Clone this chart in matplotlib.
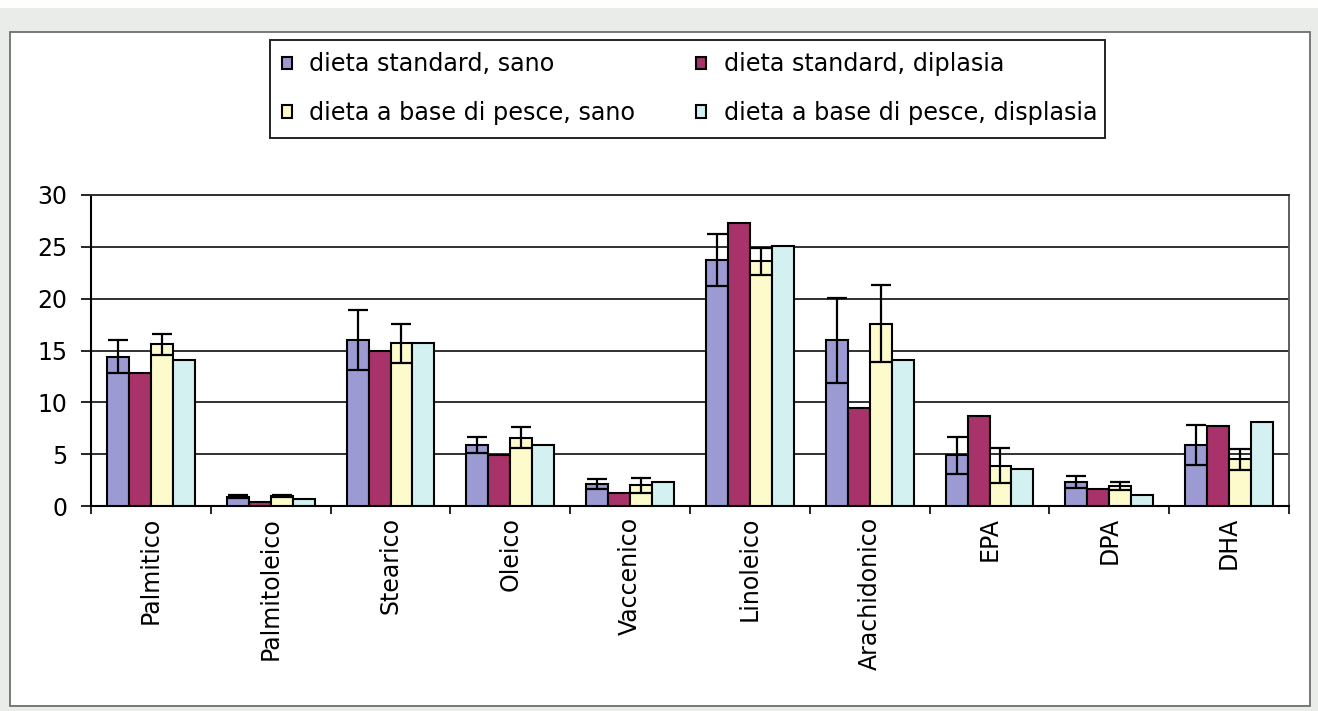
import matplotlib
matplotlib.use("Agg")
import matplotlib.pyplot as plt
import numpy as np
from matplotlib.patches import Rectangle

categories = ['Palmitico', 'Palmitoleico', 'Stearico', 'Oleico', 'Vaccenico',
              'Linoleico', 'Arachidonico', 'EPA', 'DPA', 'DHA']
series_names = ['dieta standard, sano', 'dieta standard, diplasia',
                'dieta a base di pesce, sano', 'dieta a base di pesce, displasia']
std_sano = [14.4, 0.9, 16.0, 5.9, 2.1, 23.7, 16.0, 4.9, 2.3, 5.9]
std_sano_err = [1.6, 0.15, 2.9, 0.8, 0.5, 2.5, 4.1, 1.8, 0.6, 1.9]
std_dis = [12.8, 0.4, 15.0, 4.9, 1.3, 27.3, 9.5, 8.7, 1.6, 7.7]
fish_sano = [15.6, 1.0, 15.7, 6.6, 2.0, 23.6, 17.6, 3.9, 1.9, 4.5]
fish_sano_err = [1.0, 0.1, 1.9, 1.0, 0.7, 1.3, 3.7, 1.7, 0.4, 1.0]
fish_dis = [14.1, 0.7, 15.7, 5.9, 2.3, 25.1, 14.1, 3.6, 1.1, 8.1]
yticks = [0, 5, 10, 15, 20, 25, 30]

colors = ['#9c9ad2', '#a8326a', '#fdfbcc', '#d3f1f1']

plt.rcParams['font.family'] = ['DejaVu Sans']

W, H = 1318, 711
fig = plt.figure(figsize=(W / 100, H / 100), dpi=100, facecolor='#eaecea')
# white strip at very top and white panel
fig.patches.append(Rectangle((0, 1 - 8 / H), 1, 8 / H, transform=fig.transFigure,
                             facecolor='white', edgecolor='none', zorder=-2))
fig.patches.append(Rectangle((10 / W, 5 / H), 1300 / W, (706 - 32) / H,
                             transform=fig.transFigure, facecolor='white',
                             edgecolor='#6e6e6e', linewidth=1.3, zorder=-1))
# legend frame
fig.patches.append(Rectangle((270 / W, 1 - 138 / H), 835 / W, 98 / H,
                             transform=fig.transFigure, facecolor='white',
                             edgecolor='#222222', linewidth=1.4, zorder=-0.5))

ax = fig.add_axes([91 / W, 1 - 506 / H, (1289 - 91) / W, (506 - 195) / H])
ax.set_zorder(2)
ax.set_facecolor('white')
x = np.arange(len(categories))
bw = 0.183
data = [std_sano, std_dis, fish_sano, fish_dis]
errs = [std_sano_err, None, fish_sano_err, None]
handles = []
for i, (vals, err) in enumerate(zip(data, errs)):
    pos = x + (i - 1.5) * bw
    b = ax.bar(pos, vals, width=bw, color=colors[i], edgecolor='black',
               linewidth=1.5, zorder=3, label=series_names[i])
    handles.append(b)
    if err is not None:
        ax.errorbar(pos, vals, yerr=err, fmt='none', ecolor='black',
                    elinewidth=1.6, capsize=7, capthick=1.6, zorder=4)

ax.set_xlim(-0.5, len(categories) - 0.5)
ax.set_ylim(0, 30)
ax.set_yticks(yticks)
ax.set_yticklabels([str(t) for t in yticks], fontsize=17)
ax.yaxis.grid(True, color='#303030', linewidth=1.4, zorder=0)
ax.set_axisbelow(True)
ax.set_xticks(x)
ax.set_xticklabels(categories, rotation=90, fontsize=17)
ax.set_xticks(np.arange(len(categories) + 1) - 0.5, minor=True)
ax.tick_params(axis='x', which='major', length=0, pad=8)
ax.tick_params(axis='x', which='minor', length=6, width=1.2, direction='out')
ax.tick_params(axis='y', length=7, width=1.2, pad=10)
for s in ['left', 'bottom']:
    ax.spines[s].set_linewidth(1.5)
    ax.spines[s].set_color('black')
ax.spines['right'].set_color('#505050')
ax.spines['right'].set_linewidth(1.3)
ax.spines['top'].set_color('#303030')
ax.spines['top'].set_linewidth(1.4)

order = [0, 2, 1, 3]
leg = fig.legend([handles[k] for k in order], [series_names[k] for k in order],
                 ncol=2, loc='upper left', bbox_to_anchor=(274.8 / W, 1 - 45 / H),
                 fontsize=17.2, frameon=False,
                 handlelength=0.4, handleheight=0.4, handletextpad=0.75,
                 columnspacing=2.55, borderpad=0.3, labelspacing=1.04,
                 borderaxespad=0)
leg.set_zorder(3)

fig.savefig('out.png', dpi=100, facecolor=fig.get_facecolor())
